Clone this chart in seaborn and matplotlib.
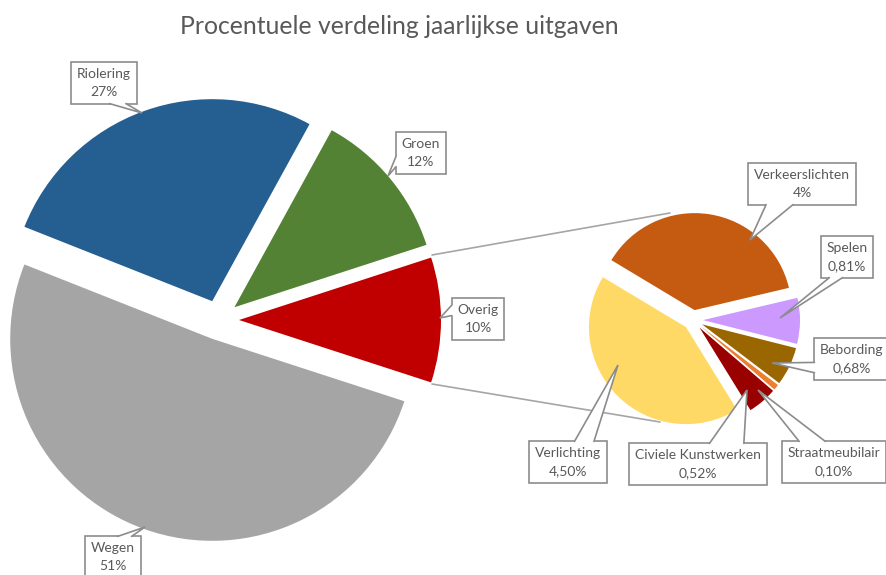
import matplotlib
matplotlib.use("Agg")
import matplotlib.pyplot as plt
from matplotlib.patches import Polygon
import seaborn as sns

# hoofdtaart
main_labels = ["Overig", "Groen", "Riolering", "Wegen"]
main_values = [10, 12, 27, 51]
main_pct = ["10%", "12%", "27%", "51%"]
main_colors = ["#C00000", "#548235", "#255E91", "#A5A5A5"]

# tweede taart (uitsplitsing van Overig)
sub_labels = ["Verkeerslichten", "Spelen", "Bebording", "Straatmeubilair",
              "Civiele Kunstwerken", "Verlichting"]
sub_values = [4.00, 0.81, 0.68, 0.10, 0.52, 4.50]
sub_pct = ["4%", "0,81%", "0,68%", "0,10%", "0,52%", "4,50%"]
sub_colors = ["#C55A11", "#CC99FF", "#996600", "#ED7D31", "#990000", "#FFD966"]

W, H = 886, 575


def P(x, y):
    # pixelpositie (y van boven) -> data
    return (x, H - y)


sns.set_theme(style="white")
plt.rcParams["font.family"] = ["Lato", "DejaVu Sans"]
txt_col = "#595959"
line_col = "#8C8C8C"

fig = plt.figure(figsize=(W / 100, H / 100), dpi=100)
ax = fig.add_axes([0, 0, 1, 1])

# verbindingslijnen
for a, b in [((432, 255), (670, 213)), ((432, 384), (660, 422))]:
    ax.plot([a[0], b[0]], [H - a[1], H - b[1]], color="#A6A6A6", lw=1.2, zorder=0)

ax.pie(main_values, colors=main_colors, startangle=-18, counterclock=True,
       radius=202, center=P(219, 320), explode=[20] * len(main_values),
       wedgeprops=dict(linewidth=0), frame=True)
ax.pie(sub_values, colors=sub_colors, startangle=149, counterclock=False,
       radius=97, center=P(693, 320), explode=[10] * len(sub_values),
       wedgeprops=dict(linewidth=0), frame=True)

# labels: (box midden, punt)
main_pos = {
    "Overig": ((478, 319), (440, 318)),
    "Groen": ((421, 153), (388, 176)),
    "Riolering": ((104, 83), (142, 113)),
    "Wegen": ((113, 557), (145, 527)),
}
sub_pos = {
    "Verkeerslichten": ((802, 184), (750, 240)),
    "Spelen": ((847, 257), (780, 318)),
    "Bebording": ((852, 359), (772, 363)),
    "Straatmeubilair": ((834, 462), (758, 390)),
    "Civiele Kunstwerken": ((698, 464), (747, 390)),
    "Verlichting": ((568, 462), (618, 365)),
}

texts = []
for names, pcts, pos in [(main_labels, main_pct, main_pos), (sub_labels, sub_pct, sub_pos)]:
    for name, pct in zip(names, pcts):
        box, tip = pos[name]
        t = ax.text(*P(*box), f"{name}\n{pct}", ha="center", va="center",
                    fontsize=10, color=txt_col, linespacing=1.55, zorder=5,
                    bbox=dict(boxstyle="square,pad=0.42", fc="white", ec=line_col, lw=1.2))
        texts.append((t, P(*tip)))

ax.text(*P(399, 27), "Procentuele verdeling jaarlijkse uitgaven", ha="center",
        va="center", fontsize=17.8, color=txt_col)

ax.set_xlim(0, W)
ax.set_ylim(0, H)
ax.set_aspect("equal")
ax.axis("off")

# callout-staartjes zoals in Excel (wedgeRectCallout)
fig.canvas.draw()
rend = fig.canvas.get_renderer()
inv = ax.transData.inverted()
for t, (tx, ty) in texts:
    bb = t.get_bbox_patch().get_window_extent(rend)
    (x0, y0), (x1, y1) = inv.transform([[bb.x0, bb.y0], [bb.x1, bb.y1]])
    cx, cy = (x0 + x1) / 2, (y0 + y1) / 2
    w, h = x1 - x0, y1 - y0
    dx, dy = tx - cx, ty - cy
    inset = 1.5
    if abs(dx) / w > abs(dy) / h:
        # zijkant links/rechts
        xe = x1 if dx > 0 else x0
        xi = xe - inset if dx > 0 else xe + inset
        if dy > 0:
            ya, yb = y1 - h * 2 / 12, y1 - h * 5 / 12
        else:
            ya, yb = y0 + h * 2 / 12, y0 + h * 5 / 12
        b1, b2 = (xe, ya), (xe, yb)
        c1, c2 = (xi, ya), (xi, yb)
    else:
        ye = y1 if dy > 0 else y0
        yi = ye - inset if dy > 0 else ye + inset
        if dx > 0:
            xa, xb = x0 + w * 7 / 12, x0 + w * 10 / 12
        else:
            xa, xb = x0 + w * 2 / 12, x0 + w * 5 / 12
        b1, b2 = (xa, ye), (xb, ye)
        c1, c2 = (xa, yi), (xb, yi)
    ax.add_patch(Polygon([c1, b1, (tx, ty), b2, c2], closed=True, fc="white",
                         ec="none", zorder=6))
    ax.plot([b1[0], tx, b2[0]], [b1[1], ty, b2[1]], color=line_col, lw=1.2,
            zorder=7, solid_joinstyle="miter")

fig.savefig("out.png", dpi=100)
